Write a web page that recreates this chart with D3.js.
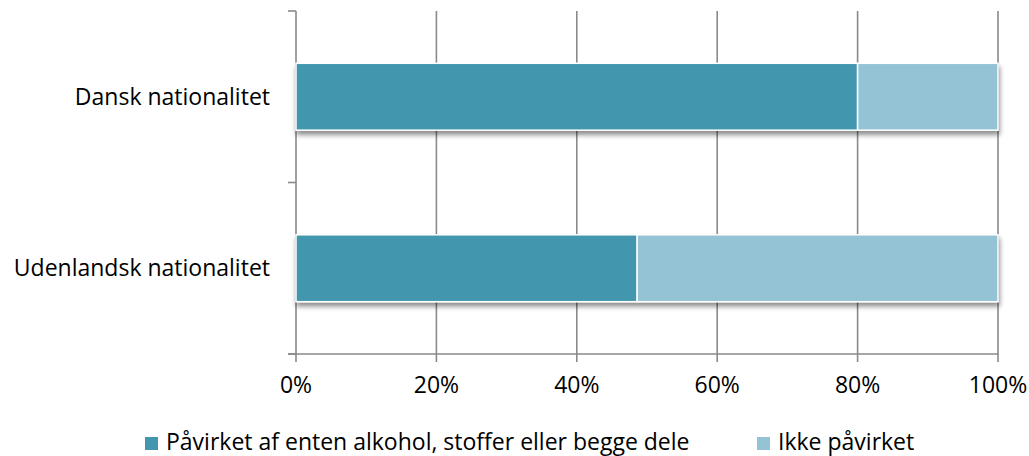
<!DOCTYPE html>
<html>
<head>
<meta charset="utf-8">
<script src="https://cdn.jsdelivr.net/npm/d3@7"></script>
<style>
body { margin: 0; background: #fff; }
text { font-family: "Open Sans", sans-serif; fill: #000; }
</style>
</head>
<body>
<script>
// data
var categories = ["Dansk nationalitet", "Udenlandsk nationalitet"];
var seriesNames = ["Påvirket af enten alkohol, stoffer eller begge dele", "Ikke påvirket"];
var influenced = [0.80, 0.486];
var notInfluenced = [0.20, 0.514];
var ticks = [0, 0.2, 0.4, 0.6, 0.8, 1];
var colors = ["#4297af", "#93c3d5"];

var width = 1029, height = 456;
var m = {left: 296, right: 31, top: 11, bottom: 102};
var fs = "23px";

var svg = d3.select("body").append("svg")
	.attr("width", width)
	.attr("height", height);

var defs = svg.append("defs");
var f = defs.append("filter").attr("id", "shadow")
	.attr("x", "-5%").attr("y", "-20%").attr("width", "110%").attr("height", "160%");
f.append("feGaussianBlur").attr("in", "SourceAlpha").attr("stdDeviation", 2.5);
f.append("feOffset").attr("dx", 1).attr("dy", 4).attr("result", "b");
f.append("feComponentTransfer").append("feFuncA").attr("type", "linear").attr("slope", 0.45);
var fm = f.append("feMerge");
fm.append("feMergeNode");
fm.append("feMergeNode").attr("in", "SourceGraphic");

var x = d3.scaleLinear().domain([0, 1]).range([m.left, width - m.right]);
var y = d3.scaleBand().domain(categories).range([m.top, height - m.bottom]).paddingInner(0.61).paddingOuter(0.305);

// gridlines
svg.append("g").selectAll("line")
	.data(ticks.slice(1))
	.enter().append("line")
	.attr("x1", function(d) { return x(d); })
	.attr("x2", function(d) { return x(d); })
	.attr("y1", m.top)
	.attr("y2", height - m.bottom + 8)
	.attr("stroke", "#8a8a8a")
	.attr("stroke-width", 1.6);

// y axis
var yEdges = [m.top, (m.top + height - m.bottom) / 2, height - m.bottom];
svg.append("line")
	.attr("x1", m.left).attr("x2", m.left)
	.attr("y1", m.top).attr("y2", height - m.bottom + 8)
	.attr("stroke", "#8a8a8a").attr("stroke-width", 1.6);
svg.append("g").selectAll("line").data(yEdges).enter().append("line")
	.attr("x1", m.left - 8).attr("x2", m.left)
	.attr("y1", function(d) { return d; }).attr("y2", function(d) { return d; })
	.attr("stroke", "#8a8a8a").attr("stroke-width", 1.6);

// x axis
svg.append("line")
	.attr("x1", m.left - 8).attr("x2", x(1))
	.attr("y1", height - m.bottom).attr("y2", height - m.bottom)
	.attr("stroke", "#8a8a8a").attr("stroke-width", 1.6);

// bars
var rows = categories.map(function(c, i) {
	return {cat: c, parts: [[0, influenced[i]], [influenced[i], influenced[i] + notInfluenced[i]]]};
});
var bars = svg.append("g").attr("filter", "url(#shadow)");
rows.forEach(function(r) {
	bars.selectAll(null).data(r.parts).enter().append("rect")
		.attr("x", function(d) { return x(d[0]); })
		.attr("y", y(r.cat))
		.attr("width", function(d) { return x(Math.min(d[1], 1)) - x(d[0]); })
		.attr("height", y.bandwidth())
		.attr("fill", function(d, i) { return colors[i]; })
		.attr("stroke", "#fff")
		.attr("stroke-width", 1.5);
});

// category labels
svg.append("g").selectAll("text").data(categories).enter().append("text")
	.attr("x", m.left - 26)
	.attr("y", function(d) { return y(d) + y.bandwidth() / 2; })
	.attr("dy", "0.35em")
	.attr("text-anchor", "end")
	.style("font-size", fs)
	.text(function(d) { return d; });

// tick labels
svg.append("g").selectAll("text").data(ticks).enter().append("text")
	.attr("x", function(d) { return x(d); })
	.attr("y", height - m.bottom + 39)
	.attr("text-anchor", "middle")
	.style("font-size", fs)
	.text(function(d) { return d3.format(".0%")(d); });

// legend
var legX = [145, 757];
var leg = svg.append("g");
seriesNames.forEach(function(s, i) {
	leg.append("rect")
		.attr("x", legX[i]).attr("y", 437)
		.attr("width", 13).attr("height", 13)
		.attr("fill", colors[i]);
	leg.append("text")
		.attr("x", legX[i] + 21).attr("y", 450)
		.style("font-size", fs)
		.text(s);
});
</script>
</body>
</html>
